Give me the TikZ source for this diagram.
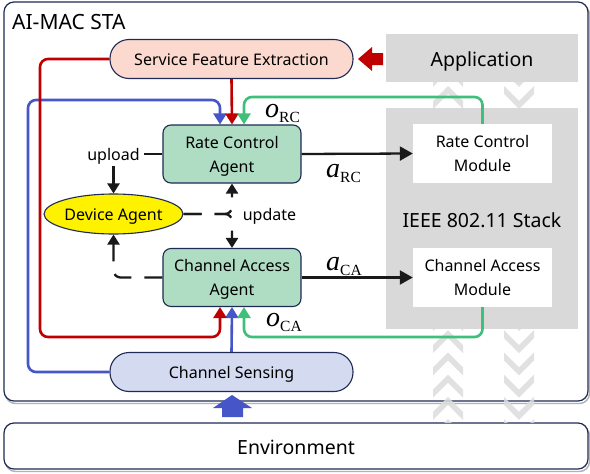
\documentclass[tikz,border=0pt]{standalone}
\usepackage{fontspec}
\setmainfont{Noto Sans}
\newfontfamily\tmsfont{Liberation Serif}
\usetikzlibrary{arrows.meta,shapes.geometric,calc}
\definecolor{navy}{HTML}{1F2A55}
\definecolor{cred}{HTML}{C00000}
\definecolor{cblue}{HTML}{4656C8}
\definecolor{cgreen}{HTML}{3FC07A}
\definecolor{agentfill}{HTML}{AEDDC3}
\definecolor{sfefill}{HTML}{FBD9CF}
\definecolor{csfill}{HTML}{D4DBF1}
\definecolor{stackgrey}{HTML}{D9D9D9}
\definecolor{chevgrey}{HTML}{DCDCDC}
\newcommand\mathlbl[2]{{\tmsfont\fontsize{28}{28}\selectfont\itshape #1}{\tmsfont\fontsize{15.5}{15.5}\selectfont\raisebox{-5pt}{#2}}}
\begin{document}
\begin{tikzpicture}[x=1pt,y=-1pt,
  txt/.style={font=\fontsize{16}{24}\selectfont, text=black},
  one/.style={text height=14pt, text depth=2pt},
  two/.style={text height=38pt, text depth=2pt},
  bigtxt/.style={font=\fontsize{19.5}{24}\selectfont, text=black, text height=18pt, text depth=1pt},
  agent/.style={draw=navy, line width=1.1pt, fill=agentfill, rounded corners=8pt, minimum width=138pt, minimum height=58pt, align=center, txt, two, inner sep=0pt},
  module/.style={fill=white, minimum width=139pt, minimum height=59pt, align=center, txt, two, inner sep=0pt},
  pill/.style={draw=navy, line width=1.1pt, rounded corners=19pt, minimum width=243pt, minimum height=39pt, txt, one, inner sep=0pt},
  frame/.style={draw=navy, line width=1.2pt, rounded corners=10pt, fill=white},
  shadowline/.style={draw=gray!60, line width=1.4pt, rounded corners=10pt},
  conn/.style={line width=2.6pt, rounded corners=8pt},
  chead/.style={-{Triangle[length=11pt,width=13pt]}},
  blk/.style={line width=2.3pt, black!90},
  bhead/.style={-{Triangle[length=13pt,width=14pt]}},
  shead/.style={-{Triangle[length=10pt,width=12pt]}},
  dsh/.style={dash pattern=on 18pt off 13pt, rounded corners=7pt},
  chev/.style={fill=chevgrey, opacity=0.85}
]
\useasboundingbox (0,0) rectangle (590,474);
% outer frame
\draw[shadowline] (5.5,4.5) rectangle (589.5,403.5);
\draw[frame] (4,2) rectangle (588,401);
\node[anchor=west, inner sep=0pt, font=\fontsize{21}{24}\selectfont] (title) at (12,22.5) {AI-MAC STA};
% environment
\draw[shadowline] (5.5,425.5) rectangle (589.5,471.5);
\node[frame, minimum width=584pt, minimum height=46pt, bigtxt] (env) at (296,446) {Environment};
% chevrons
\begin{scope}
\clip (386,82) rectangle (578,422);
\foreach \k in {-1,...,15} {
  \pgfmathsetmacro\yy{86+22.2*\k}
  \fill[chev] (433,\yy+15) -- (448,\yy) -- (463,\yy+15) -- (463,\yy+23) -- (448,\yy+8) -- (433,\yy+23) -- cycle;
  \fill[chev] (504,\yy) -- (519,\yy+15) -- (534,\yy) -- (534,\yy+8) -- (519,\yy+23) -- (504,\yy+8) -- cycle;
}
\end{scope}
% grey stack boxes
\node[fill=stackgrey, minimum width=192pt, minimum height=48pt, bigtxt, inner sep=0pt] (app) at (482,58) {Application};
\node[fill=stackgrey, minimum width=192pt, minimum height=221pt, bigtxt, inner sep=0pt] (stack) at (482,218.5) {IEEE 802.11 Stack};
\node[module] (rcm) at (482.5,153.5) {Rate Control\\Module};
\node[module] (cam) at (482.5,277.5) {Channel Access\\Module};
% main nodes
\node[pill, fill=sfefill] (sfe) at (231.5,59) {Service Feature Extraction};
\node[pill, fill=csfill] (cs) at (231.5,372) {Channel Sensing};
\node[agent] (rca) at (232,154) {Rate Control\\Agent};
\node[agent] (caa) at (232,277.5) {Channel Access\\Agent};
\node[ellipse, draw=navy, line width=1.1pt, fill=yellow, minimum width=137pt, minimum height=40pt, inner sep=0pt, txt, one] (da) at (113.5,214) {Device Agent};
% block arrows
\fill[cred] (358,59) -- (372,47) -- (372,53) -- (383,53) -- (383,65) -- (372,65) -- (372,71) -- cycle;
\fill[cblue] (232,395) -- (252,408) -- (243,408) -- (243,417) -- (222,417) -- (222,408) -- (213,408) -- cycle;
% coloured connectors
\coordinate (blueC) at (28,100);
\coordinate (redC) at (40,337);
\coordinate (gT) at (244,97);
\coordinate (gB) at (244,337);
\draw[conn, cblue, chead] (cs.west) -| (blueC) -| ([xshift=-12pt]rca.north);
\draw[conn, cblue, chead] (cs.north) -- (caa.south);
\draw[conn, cred, chead] (sfe.west) -| (redC) -| ([xshift=-12pt]caa.south);
\draw[conn, cred, chead] (sfe.south) -- (rca.north);
\draw[conn, cgreen, chead] (rcm.north) |- (gT) -- ([xshift=12pt]rca.north);
\draw[conn, cgreen, chead] (cam.south) |- (gB) -- ([xshift=12pt]caa.south);
% black connectors
\draw[blk, bhead] (rca.east) -- (rcm.west);
\draw[blk, bhead] (caa.east) -- (cam.west);
\draw[blk, shead] (rca.west) -| node[fill=white, inner sep=4pt, txt, one, pos=0.5] (upl) {upload} (da.north);
\draw[blk, shead, dsh] (da.east) -| (rca.south);
\draw[blk, shead, dsh] (da.east) -| (caa.north);
\draw[blk, shead, dsh] (caa.west) -| (da.south);
\node[txt, one, inner sep=0pt] (upd) at (269.5,214) {update};
% labels
\node[anchor=base west, inner sep=0pt] (oRC) at (265,117) {\mathlbl{o}{RC}};
\node[anchor=base west, inner sep=0pt] (aRC) at (326,177) {\mathlbl{a}{RC}};
\node[anchor=base west, inner sep=0pt] (aCA) at (326,270) {\mathlbl{a}{CA}};
\node[anchor=base west, inner sep=0pt] (oCA) at (266,326) {\mathlbl{o}{CA}};
\end{tikzpicture}
\end{document}
